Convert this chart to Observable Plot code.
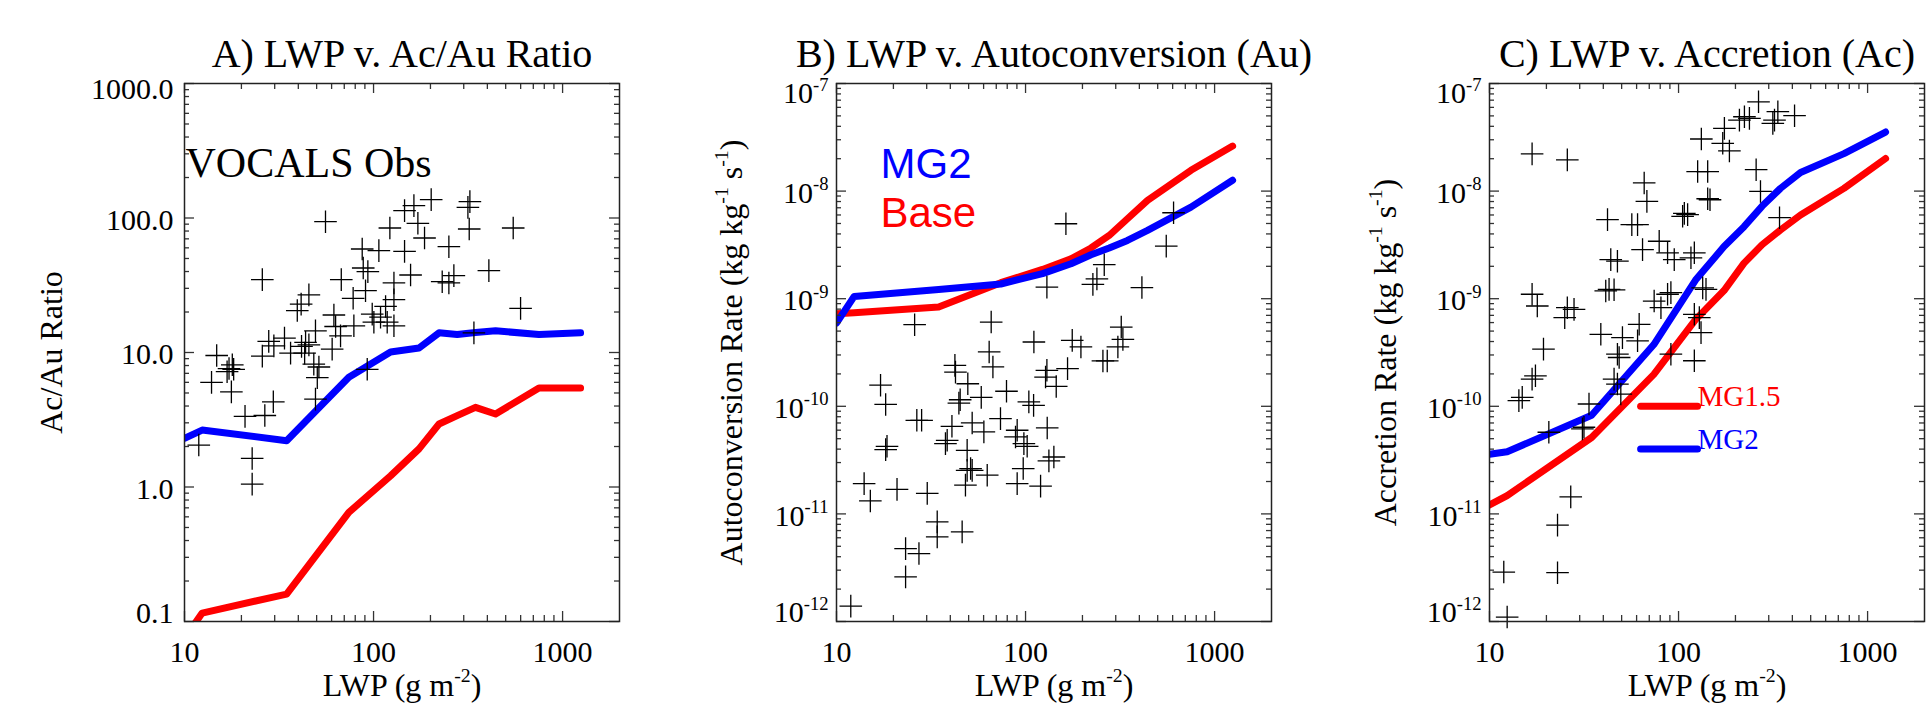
<!DOCTYPE html>
<html>
<head>
<meta charset="utf-8">
<script src="https://cdn.jsdelivr.net/npm/d3@7"></script>
<script src="https://cdn.jsdelivr.net/npm/@observablehq/plot@0.6"></script>
<style>
  html, body { margin: 0; padding: 0; background: #fff; }
  #row { display: flex; width: 1929px; height: 704px; overflow: hidden; }
  #row svg { flex: none; overflow: visible; }
</style>
</head>
<body>
<div id="row"></div>
<script>
// ---------------- data ----------------
const lwpBins = [10, 12.4, 34.7, 74, 123, 174, 222, 277, 346, 442, 750, 1245];

// Panel A: Ac/Au ratio
const ratioMG15 = [0.075, 0.1155, 0.16, 0.648, 1.21, 1.92, 2.94, 3.39, 3.91, 3.49, 5.45, 5.45];
const ratioMG2  = [2.30, 2.65, 2.21, 6.54, 10.1, 10.8, 14.0, 13.6, 14.1, 14.5, 13.6, 14.0];
const obsRatio = [
  [201.8,136.9],[163.5,123.5],[145.9,113.4],[323.3,132.3],[315.6,120.0],[171.6,91.3],[122.0,84.3],
  [320.7,82.8],[548,84.3],[55.7,93.9],[186.1,71.0],[250.3,61.2],[87.1,58.8],[106.7,57.2],[145.9,56.5],
  [88.2,42.5],[93.3,39.9],[407.4,40.6],[157.0,37.7],[67.5,34.8],[25.8,34.8],[230.8,33.6],[250.3,32.9],
  [266,37.3],[128.2,32.9],[90.7,28.8],[78.0,25.3],[128.2,24.7],[45.5,26.8],[41.4,22.9],[39.5,20.5],
  [599.5,21.3],[115.8,22.0],[61.7,19.0],[98.4,19.3],[108.9,18.3],[100.4,16.8],[118.1,16.8],[128.2,15.8],
  [78.7,15.8],[63.0,15.6],[49.3,14.5],[66.9,13.3],[33.8,12.8],[27.9,12.1],[29.7,11.2],[43.7,11.9],
  [45.5,11.4],[41.6,11.1],[60.4,10.6],[25.8,9.4],[36.4,9.9],[43.2,9.9],[14.8,9.5],[17.9,8.1],[17.2,7.6],
  [18.2,7.5],[16.8,7.2],[48.3,8.2],[51.4,7.8],[50.4,6.5],[92.6,7.5],[13.9,6.0],[17.7,5.1],[49.3,4.5],
  [29.5,4.3],[26.6,3.4],[20.9,3.35],[11.9,2.05],[22.8,1.63],[22.8,1.05],[339.6,14.0]
];

// Panel B: autoconversion rate
const autoBase = [7.26e-10, 7.4e-10, 8.38e-10, 1.41e-9, 1.87e-9, 2.35e-9, 2.96e-9, 3.87e-9, 5.53e-9, 8.19e-9, 1.56e-8, 2.62e-8];
const autoMG2  = [5.94e-10, 1.05e-9, 1.22e-9, 1.37e-9, 1.71e-9, 2.11e-9, 2.56e-9, 2.96e-9, 3.48e-9, 4.31e-9, 7.1e-9, 1.26e-8];
const obsAuto = [
  [163.5,4.97e-9],[606.7,6.29e-9],[555,3.08e-9],[260.8,2.07e-9],[238.5,1.53e-9],[227.1,1.36e-9],
  [129.7,1.28e-9],[412.6,1.27e-9],[65.8,6.07e-10],[25.9,5.73e-10],[320.8,5.45e-10],[327.3,4.19e-10],
  [307.9,3.56e-10],[110.7,3.96e-10],[176.6,4.1e-10],[196.3,3.56e-10],[256.6,2.64e-10],[270.5,2.64e-10],
  [64.2,3.2e-10],[42.3,2.4e-10],[42.6,2.08e-10],[67.2,2.32e-10],[129.7,2.16e-10],[127.6,1.87e-10],
  [166.8,2.24e-10],[49.5,1.62e-10],[145.3,1.53e-10],[17.1,1.57e-10],[79.3,1.38e-10],[58.3,1.21e-10],
  [45.1,1.15e-10],[44.4,1.07e-10],[104.1,1.1e-10],[110.3,1.02e-10],[18.2,1.04e-10],[26.6,7.41e-11],
  [28.2,7.41e-11],[40.8,6.52e-11],[52.2,7.0e-11],[73.7,7.68e-11],[130.2,6.29e-11],[90.3,5.99e-11],
  [88.5,5.19e-11],[60.2,5.78e-11],[18.5,4.25e-11],[18.2,3.96e-11],[38.5,4.83e-11],[37.7,4.5e-11],
  [49.1,3.9e-11],[98.0,4.5e-11],[102.0,4.25e-11],[141.2,3.38e-11],[132.9,3.11e-11],[51.2,2.64e-11],
  [49.1,2.54e-11],[52.2,2.54e-11],[62.7,2.29e-11],[97.2,2.64e-11],[90.3,1.91e-11],[120.1,1.81e-11],
  [48.1,1.85e-11],[14.0,1.91e-11],[20.9,1.69e-11],[30.2,1.55e-11],[15.1,1.32e-11],[34.1,8.43e-12],
  [46.2,6.8e-12],[34.1,6.11e-12],[23.2,4.76e-12],[27.3,4.28e-12],[23.2,2.6e-12],[11.9,1.39e-12]
];

// Panel C: accretion rate
const accrMG15 = [1.21e-11, 1.48e-11, 5.13e-11, 1.98e-10, 6.39e-10, 1.19e-9, 2.14e-9, 3.18e-9, 4.35e-9, 6.0e-9, 1.06e-8, 2.01e-8];
const accrMG2  = [3.59e-11, 3.78e-11, 8.25e-11, 3.75e-10, 1.49e-9, 3.05e-9, 4.67e-9, 7.26e-9, 1.06e-8, 1.49e-8, 2.23e-8, 3.54e-8];
const obsAccr = [
  [264.9,6.76e-8],[335.2,5.47e-8],[321.8,4.57e-8],[315.3,4.26e-8],[410.8,5.02e-8],[223.1,4.91e-8],
  [237.1,4.74e-8],[209.9,4.57e-8],[174.8,3.83e-8],[132.0,3.05e-8],[171.3,2.78e-8],[185.8,2.36e-8],
  [16.8,2.22e-8],[25.8,1.95e-8],[257.3,1.58e-8],[126.2,1.52e-8],[142.6,1.52e-8],[65.8,1.19e-8],
  [271.3,9.93e-9],[68.0,8.02e-9],[142.6,8.49e-9],[146.7,8.31e-9],[107.3,6.21e-9],[111.7,6.04e-9],
  [105.1,5.83e-9],[42.1,5.43e-9],[56.6,4.88e-9],[60.7,4.88e-9],[342.1,5.66e-9],[79.0,3.42e-9],
  [64.5,2.86e-9],[87.5,2.67e-9],[94.9,2.31e-9],[121.2,2.67e-9],[116.3,2.4e-9],[43.8,2.31e-9],
  [47.5,2.23e-9],[41.2,1.18e-9],[42.9,1.22e-9],[45.6,1.21e-9],[16.8,1.1e-9],[17.9,8.55e-10],
  [25.8,8.25e-10],[28.0,7.96e-10],[25.0,6.67e-10],[74.3,9.51e-10],[80.7,8.25e-10],[87.5,1.1e-9],
  [91.1,1.14e-9],[134.2,1.26e-9],[139.7,1.22e-9],[121.2,7.16e-10],[128.8,6.67e-10],[61.9,5.78e-10],
  [38.8,4.67e-10],[50.5,4.35e-10],[60.7,4.06e-10],[131.5,4.84e-10],[19.3,3.4e-10],[47.5,3.05e-10],
  [48.5,2.84e-10],[91.1,3.05e-10],[121.2,2.65e-10],[17.5,1.92e-10],[16.8,1.79e-10],[14.3,1.13e-10],
  [14.9,1.21e-10],[45.6,1.79e-10],[47.5,1.61e-10],[49.5,1.3e-10],[33.6,1.05e-10],[31.6,6.39e-11],
  [31.0,6.17e-11],[20.6,5.74e-11],[26.9,1.44e-11],[22.9,7.86e-12],[11.9,2.88e-12],[22.9,2.84e-12],
  [12.4,1.1e-12]
];

// ticks
const xTicks = [10, 100, 1000];
const ratioTicks = [0.1, 1, 10, 100, 1000];
const rateTicks = [1e-12, 1e-11, 1e-10, 1e-9, 1e-8, 1e-7];

// legend (panel C) in data units
const legendLwp = [63, 126];
const legendRates = {MG15: 1e-10, MG2: 4e-11};

// ---------------- drawing ----------------
const SERIF = "'Liberation Serif', 'Times New Roman', serif";
const SANS = "'Liberation Sans', Arial, sans-serif";
const RED = "#ff0000", BLUE = "#0000ff";
const MT = 83, MB = 83, H = 704, PW = 435, PH = H - MT - MB;

function minorTicks(lo, hi) {
  const out = [];
  for (let e = Math.floor(Math.log10(lo)); e < Math.ceil(Math.log10(hi)); e++)
    for (let m = 2; m <= 9; m++) {
      const v = +(m * Math.pow(10, e)).toPrecision(6);
      if (v > lo && v < hi) out.push(v);
    }
  return out;
}

const crossSymbol = {
  draw(ctx, size) {
    const r = Math.sqrt(size / Math.PI);
    ctx.moveTo(-r, 0); ctx.lineTo(r, 0);
    ctx.moveTo(0, -r); ctx.lineTo(0, r);
  }
};

function frameTicks(yDomain, yMajor) {
  const s = {stroke: "#333", strokeWidth: 1.3};
  const xMinor = minorTicks(10, 2000);
  const yMinor = minorTicks(yDomain[0], yDomain[1]);
  return [
    Plot.tickX(xTicks, {x: d => d, insetTop: PH - 10, ...s}),
    Plot.tickX(xTicks, {x: d => d, insetBottom: PH - 10, ...s}),
    Plot.tickX(xMinor, {x: d => d, insetTop: PH - 6, ...s}),
    Plot.tickX(xMinor, {x: d => d, insetBottom: PH - 6, ...s}),
    Plot.tickY(yMajor, {y: d => d, insetRight: PW - 10, ...s}),
    Plot.tickY(yMajor, {y: d => d, insetLeft: PW - 10, ...s}),
    Plot.tickY(yMinor, {y: d => d, insetRight: PW - 5, ...s}),
    Plot.tickY(yMinor, {y: d => d, insetLeft: PW - 5, ...s})
  ];
}

function panel(o) {
  const yMajor = o.yMajor;
  const yInner = yMajor.slice(1, -1);
  const yAx = {anchor: "left", tickSize: 0, tickPadding: o.tickPad, tickFormat: o.yFmt, label: null, fontSize: 30};
  return Plot.plot({
    width: o.width, height: H,
    marginLeft: o.ml, marginRight: o.width - o.ml - PW, marginTop: MT, marginBottom: MB,
    style: {fontFamily: SERIF, fontSize: "30px", background: "transparent", overflow: "visible", maxWidth: "none", color: "#000"},
    x: {type: "log", domain: [10, 2000]},
    y: {type: "log", domain: o.yDomain},
    marks: [
      ...o.marks,
      ...frameTicks(o.yDomain, yMajor),
      Plot.frame({stroke: "#222", strokeWidth: 1.5}),
      Plot.axisX(xTicks, {anchor: "bottom", tickSize: 0, tickPadding: 19, tickFormat: d => String(d), label: null, fontSize: 30}),
      Plot.axisY(yInner, {...yAx, dy: 2}),
      Plot.axisY([yMajor[yMajor.length - 1]], {...yAx, dy: o.topDy}),
      Plot.axisY([yMajor[0]], {...yAx, dy: o.botDy}),
      Plot.text([o.title], {text: d => d, frameAnchor: "top", dy: -16.5, textAnchor: "middle", lineAnchor: "bottom", fontSize: 40, fill: "#000"}),
      Plot.text(["LWP (g m^-2)"], {text: d => d, frameAnchor: "bottom", dy: 74, textAnchor: "middle", lineAnchor: "bottom", fontSize: 32, fill: "#000"}),
      Plot.text([o.ylabel], {text: d => d, frameAnchor: "left", dx: o.ylabelDx, rotate: -90, textAnchor: "middle", lineAnchor: "middle", fontSize: 32, fill: "#000"})
    ]
  });
}

function lineMarks(ys, color) {
  return Plot.line(lwpBins, {x: d => d, y: ys, stroke: color, strokeWidth: 7, strokeLinejoin: "round", clip: true});
}
function obsMarks(pts) {
  return Plot.dot(pts, {x: d => d[0], y: d => d[1], symbol: crossSymbol, r: 11.3, stroke: "#000", strokeWidth: 1.3, fill: "none"});
}

const rateFmt = d => "10^" + Math.round(Math.log10(d));

const pA = panel({
  width: 650, ml: 184, yDomain: [0.1, 1000], yMajor: ratioTicks, yFmt: d3.format(".1f"),
  tickPad: 11, topDy: 6, botDy: -8,
  title: "A) LWP v. Ac/Au Ratio", ylabel: "Ac/Au Ratio", ylabelDx: -133,
  marks: [
    lineMarks(ratioMG15, RED),
    lineMarks(ratioMG2, BLUE),
    obsMarks(obsRatio),
    Plot.text(["VOCALS Obs"], {text: d => d, frameAnchor: "top-left", dx: 1, dy: 93, textAnchor: "start", lineAnchor: "bottom", fontSize: 42, fill: "#000"})
  ]
});

const pB = panel({
  width: 670, ml: 186, yDomain: [1e-12, 1e-7], yMajor: rateTicks, yFmt: rateFmt,
  tickPad: 8, topDy: 10, botDy: -9,
  title: "B) LWP v. Autoconversion (Au)", ylabel: "Autoconversion Rate (kg kg^-1 s^-1)", ylabelDx: -105,
  marks: [
    lineMarks(autoBase, RED),
    lineMarks(autoMG2, BLUE),
    obsMarks(obsAuto),
    Plot.text(["MG2"], {text: d => d, frameAnchor: "top-left", dx: 44, dy: 94, textAnchor: "start", lineAnchor: "bottom", fontSize: 42, fontFamily: SANS, fill: BLUE}),
    Plot.text(["Base"], {text: d => d, frameAnchor: "top-left", dx: 44, dy: 143, textAnchor: "start", lineAnchor: "bottom", fontSize: 42, fontFamily: SANS, fill: RED})
  ]
});

const pC = panel({
  width: 609, ml: 169, yDomain: [1e-12, 1e-7], yMajor: rateTicks, yFmt: rateFmt,
  tickPad: 8, topDy: 10, botDy: -9,
  title: "C) LWP v. Accretion (Ac)", ylabel: "Accretion Rate (kg kg^-1 s^-1)", ylabelDx: -104,
  marks: [
    lineMarks(accrMG15, RED),
    lineMarks(accrMG2, BLUE),
    obsMarks(obsAccr),
    Plot.line(legendLwp, {x: d => d, y: legendLwp.map(() => legendRates.MG15), stroke: RED, strokeWidth: 7}),
    Plot.line(legendLwp, {x: d => d, y: legendLwp.map(() => legendRates.MG2), stroke: BLUE, strokeWidth: 7}),
    Plot.text(["MG1.5"], {text: d => d, x: legendLwp[1], y: legendRates.MG15, textAnchor: "start", lineAnchor: "bottom", fontSize: 29, fill: RED}),
    Plot.text(["MG2"], {text: d => d, x: legendLwp[1], y: legendRates.MG2, textAnchor: "start", lineAnchor: "bottom", fontSize: 29, fill: BLUE})
  ]
});

const row = document.getElementById("row");
[pA, pB, pC].forEach(p => row.appendChild(p));

// turn "^n" markers into superscript tspans
function supify(svg) {
  const NS = "http://www.w3.org/2000/svg";
  svg.querySelectorAll("text").forEach(t => {
    if (t.querySelector("tspan")) return;
    const s = t.textContent;
    if (!s.includes("^")) return;
    const fs = parseFloat(getComputedStyle(t).fontSize) || 30;
    const parts = s.split(/\^(-?\d+)/);
    t.textContent = "";
    let up = false;
    parts.forEach((p, i) => {
      if (!p) return;
      const ts = document.createElementNS(NS, "tspan");
      if (i % 2) {
        ts.setAttribute("font-size", (fs * 0.62).toFixed(1));
        ts.setAttribute("dy", (-0.42 * fs).toFixed(1));
        up = true;
      } else if (up) {
        ts.setAttribute("dy", (0.42 * fs).toFixed(1));
        up = false;
      }
      ts.textContent = p;
      t.appendChild(ts);
    });
  });
}
[pA, pB, pC].forEach(supify);
</script>
</body>
</html>
